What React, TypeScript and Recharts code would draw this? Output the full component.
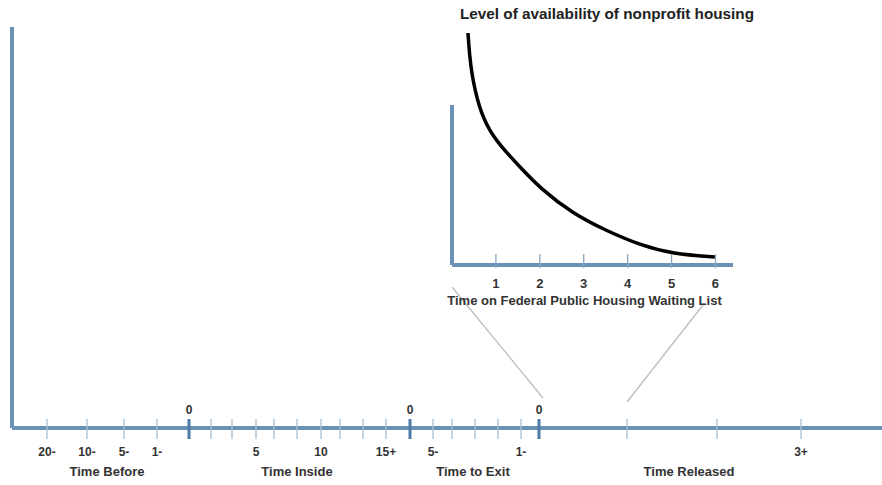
import { LineChart, Line, XAxis, YAxis, ReferenceLine, Label } from 'recharts'

const AXIS_BLUE = '#6a91b6'
const TEXT = '#333333'
const FONT = '"Liberation Sans", Arial, sans-serif'

// main timeline, positions in 10px units along the line
const timelinePos = [3.5, 7.5, 11.2, 14.5, 17.7, 19.9, 22, 24.4, 26.2, 28.5, 30.9, 32.8, 35.1, 37.4, 39.8, 42.1, 44, 46.3, 48.6, 50.9, 52.7, 61.5, 70.5, 78.9]
const timelineLabels = ['20-', '10-', '5-', '1-', '0', '', '', '5', '', '', '10', '', '', '15+', '0', '5-', '', '', '', '1-', '0', '', '', '3+']
const sectionPos = [9.5, 28.5, 46.1, 67.7]
const sectionLabels = ['Time Before', 'Time Inside', 'Time to Exit', 'Time Released']

// the two thin "zoom" lines from the inset down to the timeline
const zoomLeft = [{ pos: 44.0, y: 14.1 }, { pos: 53.1, y: 3.0 }]
const zoomRight = [{ pos: 61.5, y: 2.6 }, { pos: 69.1, y: 12.3 }]

// inset: availability vs years on waiting list
const waitYears = [1, 2, 3, 4, 5, 6]
const curveX = [0.364, 0.399, 0.456, 0.535, 0.626, 0.729, 0.866, 1.025, 1.23, 1.55, 2.0, 2.76, 3.53, 4.28, 5.03, 5.99]
const curveY = [23.2, 21.0, 19.0, 17.3, 15.8, 14.6, 13.4, 12.4, 11.3, 9.8, 7.7, 5.1, 3.4, 2.0, 1.1, 0.8]
const insetAxisTop = 16

const curveData = curveX.map((x, i) => ({ x, level: curveY[i] }))

function TimelineTick(props: any) {
    const { x, y, payload } = props
    const label = timelineLabels[timelinePos.indexOf(payload.value)]
    const isZero = label === '0'
    return (
        <g>
            <line
                x1={x} x2={x} y1={y - 9} y2={y + 11}
                stroke={isZero ? '#4f7aa6' : '#a8bfd5'}
                strokeWidth={isZero ? 3 : 1.3}
            />
            {label && (
                <text
                    x={x} y={isZero ? y - 14 : y + 28}
                    textAnchor='middle' fontSize={12} fontWeight='bold'
                    fontFamily={FONT} fill={TEXT}
                >
                    {label}
                </text>
            )}
        </g>
    )
}

function SectionTick(props: any) {
    const { x, y, payload } = props
    return (
        <text x={x} y={y + 18} textAnchor='middle' fontSize={13} fontWeight='bold' fontFamily={FONT} fill={TEXT}>
            {sectionLabels[sectionPos.indexOf(payload.value)]}
        </text>
    )
}

function WaitTick(props: any) {
    const { x, y, payload } = props
    return (
        <g>
            <line x1={x} x2={x} y1={y - 11} y2={y + 3} stroke='#8aa6c2' strokeWidth={1.3} />
            <text x={x} y={y + 23} textAnchor='middle' fontSize={13} fontWeight='bold' fontFamily={FONT} fill={TEXT}>
                {payload.value}
            </text>
        </g>
    )
}

export default function App() {
    return (
        <div style={{ position: 'absolute', left: 0, top: 0, width: 882, height: 485, background: '#fff' }}>
            <div style={{ position: 'absolute', left: 0, top: 0 }}>
                <LineChart width={882} height={485} margin={{ top: 27, right: 0, left: 2, bottom: 0 }}>
                    <XAxis
                        xAxisId='main' type='number' dataKey='pos' domain={[0, 87]}
                        ticks={timelinePos} interval={0} tickSize={0} tickMargin={0}
                        height={30} tickLine={false} allowDataOverflow
                        axisLine={{ stroke: AXIS_BLUE, strokeWidth: 4 }}
                        tick={TimelineTick}
                    />
                    <XAxis
                        xAxisId='sec' type='number' dataKey='pos' domain={[0, 87]}
                        ticks={sectionPos} interval={0} tickSize={0} tickMargin={0}
                        height={27} tickLine={false} axisLine={false} allowDataOverflow
                        tick={SectionTick}
                    />
                    <YAxis
                        type='number' dataKey='y' domain={[0, 40.1]} width={10} tick={false} tickLine={false}
                        allowDataOverflow axisLine={{ stroke: AXIS_BLUE, strokeWidth: 4 }}
                    />
                    <Line
                        xAxisId='main' data={zoomLeft} dataKey='y' stroke='#bdbdbd' strokeWidth={1.3}
                        dot={false} isAnimationActive={false}
                    />
                    <Line
                        xAxisId='main' data={zoomRight} dataKey='y' stroke='#bdbdbd' strokeWidth={1.3}
                        dot={false} isAnimationActive={false}
                    />
                </LineChart>
            </div>
            <div style={{ position: 'absolute', left: 0, top: 0 }}>
                <LineChart width={882} height={485} data={curveData} margin={{ top: 33, right: 149, left: 452, bottom: 180 }}>
                    <XAxis
                        type='number' dataKey='x' domain={[0, 6.4]} ticks={waitYears} interval={0}
                        tickSize={0} tickMargin={0} tickLine={false} height={40}
                        axisLine={{ stroke: AXIS_BLUE, strokeWidth: 4 }}
                        tick={WaitTick}
                    >
                        <Label
                            value='Time on Federal Public Housing Waiting List'
                            position='insideBottom' offset={0} dx={-8}
                            fontSize={13} fontWeight='bold' fontFamily={FONT} fill={TEXT}
                        />
                    </XAxis>
                    <YAxis type='number' domain={[0, 23.2]} hide />
                    <ReferenceLine
                        segment={[{ x: 0, y: 0 }, { x: 0, y: insetAxisTop }]}
                        stroke={AXIS_BLUE} strokeWidth={4}
                    />
                    <Line
                        type='basis' dataKey='level' stroke='#000' strokeWidth={3.5}
                        dot={false} isAnimationActive={false}
                    />
                </LineChart>
            </div>
            <div style={{
                position: 'absolute', left: 460, top: 5, fontFamily: FONT, fontWeight: 'bold',
                fontSize: 15.3, color: '#222', whiteSpace: 'nowrap',
            }}>
                Level of availability of nonprofit housing
            </div>
        </div>
    )
}
